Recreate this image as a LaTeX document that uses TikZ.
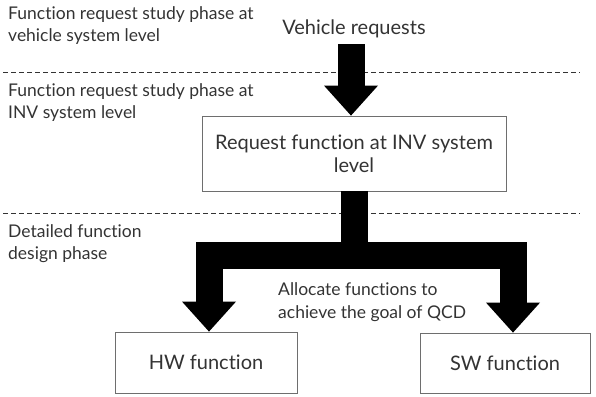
\documentclass[tikz,border=0pt]{standalone}
\usepackage{fontspec}
\setmainfont{Lato}[Ligatures=NoCommon]
\usetikzlibrary{arrows.meta}
\definecolor{txt}{HTML}{333333}
\definecolor{frame}{HTML}{6E6E6E}
\tikzstyle{lbl}=[text=txt, font=\fontsize{20}{23}\selectfont, align=center, inner sep=0]
\tikzstyle{phase}=[text=txt, font=\fontsize{17.5}{22.5}\selectfont, align=left, anchor=north west, inner sep=0]
\tikzstyle{fbox}=[draw=frame, line width=0.8pt, text=txt, font=\fontsize{20}{23}\selectfont, align=center]
\tikzstyle{fat}=[line width=27pt, -{Triangle[width=54pt,length=30pt,line width=0pt]}]
\tikzstyle{sep}=[dash pattern=on 5pt off 3pt, line width=0.8pt, draw=txt]

\begin{document}
\begin{tikzpicture}[x=1pt, y=-1pt]
\useasboundingbox (0,0) rectangle (596,396);
% phase labels
\node at (8,6)[phase](ph1){Function request study phase at\\vehicle system level};
\node at (8,83)[phase](ph2){Function request study phase at\\INV system level};
\node at (8,224)[phase](ph3){Detailed function\\design phase};
\draw[sep] (3,72)--(580,72);
\draw[sep] (3,213)--(580,213);
% flow
\node at (354,29)[lbl](veh){Vehicle requests};
\node at (354,153.5)[fbox, minimum width=304pt, minimum height=75pt](inv){Request function at INV system\\level};
\node at (206,362.5)[fbox, minimum width=182pt, minimum height=61pt](hw){HW function};
\node at (505,363)[fbox, minimum width=170pt, minimum height=60pt](sw){SW function};
\node at (278,302)[phase, anchor=west](goal){Allocate functions to\\achieve the goal of QCD};
\draw[fat, shorten <=6pt] ([xshift=-3pt]veh.south) -- ([xshift=-3pt]inv.north);
\draw[fat] (inv.south) -- ++(0,64) -| ([xshift=3pt]hw.north);
\draw[fat] (inv.south) -- ++(0,64) -| ([xshift=8pt]sw.north);
\end{tikzpicture}
\end{document}
